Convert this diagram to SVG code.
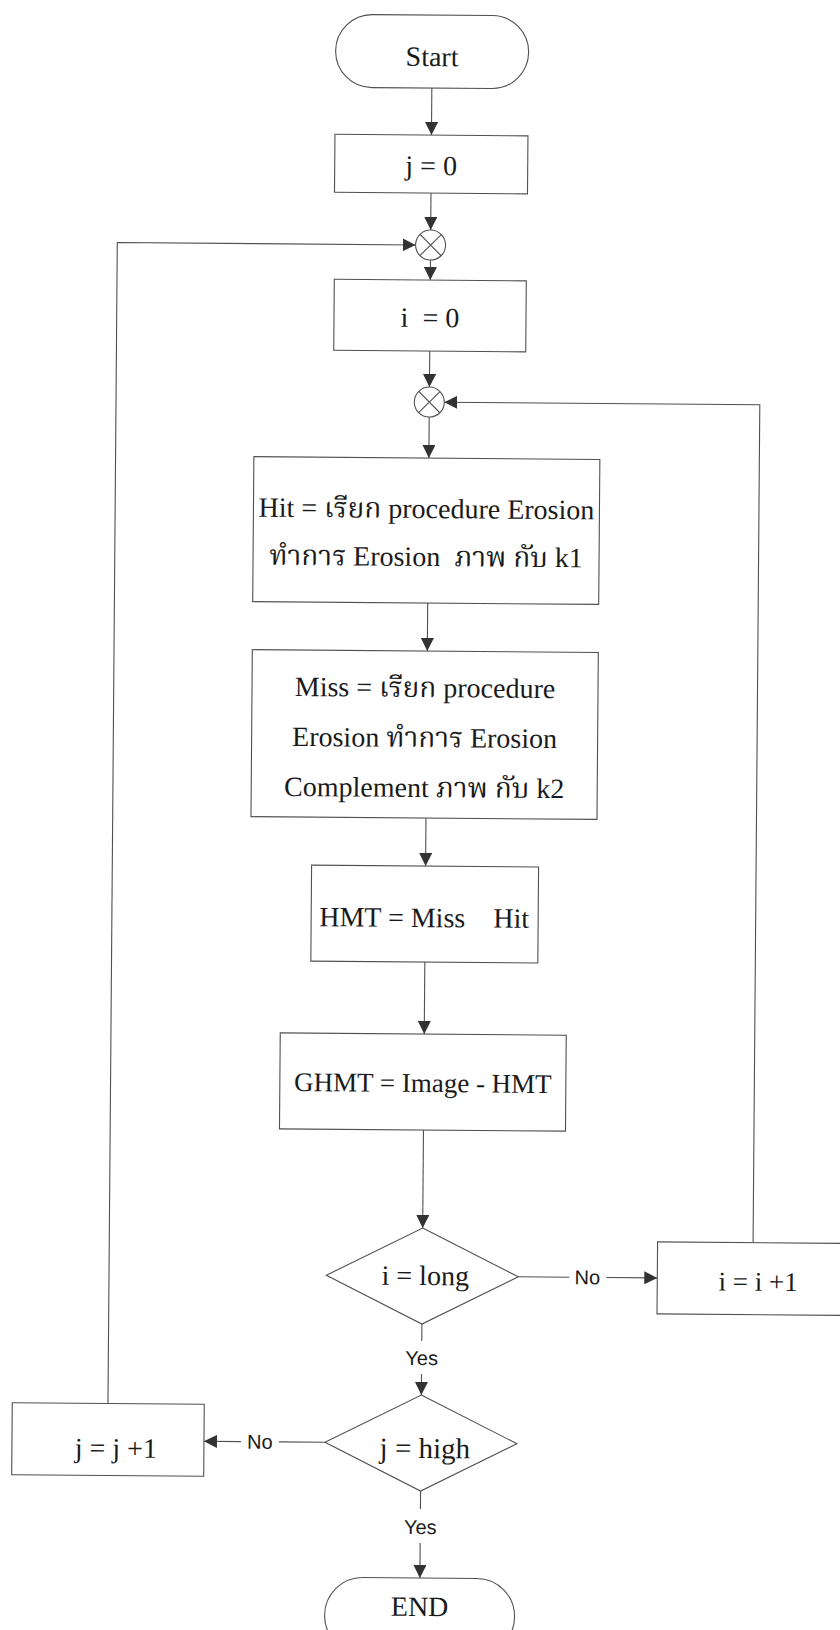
<svg xmlns="http://www.w3.org/2000/svg" width="840" height="1630" viewBox="0 0 840 1630">
  <style>
    .box { fill: #ffffff; stroke: #505050; stroke-width: 1.1; }
    .ln { fill: none; stroke: #505050; stroke-width: 1.1; }
    .arr { fill: none; stroke: #505050; stroke-width: 1.1; marker-end: url(#head); }
    .t { font-family: "Liberation Serif", "Noto Serif Thai", "Noto Sans Thai", "DejaVu Serif", serif; font-size: 28px; fill: #1a1a1a; text-anchor: middle; white-space: pre; }
    .lbl { font-family: "Liberation Sans", Arial, sans-serif; font-size: 20px; fill: #1a1a1a; text-anchor: middle; }
  </style>
  <defs>
    <marker id="head" markerUnits="userSpaceOnUse" markerWidth="14" markerHeight="13" refX="13" refY="6.5" orient="auto">
      <path d="M0,0 L13,6.5 L0,13 Z" fill="#333333"/>
    </marker>
  </defs>
  <rect width="840" height="1630" fill="#ffffff"/>

  <g transform="rotate(0.46 420 815)">
    <!-- connectors -->
    <g id="connectors">
      <line class="arr" x1="426" y1="88" x2="426" y2="135"/>
      <line class="arr" x1="426" y1="193" x2="426" y2="230"/>
      <line class="arr" x1="426" y1="260" x2="426" y2="280"/>
      <line class="arr" x1="426" y1="351" x2="426" y2="387"/>
      <line class="arr" x1="426" y1="417" x2="426" y2="458"/>
      <line class="arr" x1="426" y1="603" x2="426" y2="651"/>
      <line class="arr" x1="426" y1="818" x2="426" y2="866"/>
      <line class="arr" x1="426" y1="962" x2="426" y2="1034"/>
      <line class="arr" x1="426" y1="1130" x2="426" y2="1228"/>
      <!-- i = long : No -->
      <line class="ln" x1="522" y1="1276" x2="573" y2="1276"/>
      <text class="lbl" x="591" y="1283">No</text>
      <line class="arr" x1="610" y1="1276" x2="661" y2="1276"/>
      <!-- i = long : Yes -->
      <line class="ln" x1="426" y1="1324" x2="426" y2="1341"/>
      <text class="lbl" x="426" y="1365">Yes</text>
      <line class="arr" x1="426" y1="1374" x2="426" y2="1395"/>
      <!-- j = high : No -->
      <line class="ln" x1="330" y1="1443" x2="284" y2="1443"/>
      <text class="lbl" x="265" y="1450">No</text>
      <line class="arr" x1="246" y1="1443" x2="209" y2="1443"/>
      <!-- j = high : Yes -->
      <line class="ln" x1="426" y1="1491" x2="426" y2="1509"/>
      <text class="lbl" x="426" y="1534">Yes</text>
      <line class="arr" x1="426" y1="1543" x2="426" y2="1578"/>
      <!-- inner loop back -->
      <polyline class="arr" points="756.5,1240 756.5,402 441,402"/>
      <!-- outer loop back -->
      <polyline class="arr" points="112.7,1406 112.7,245 411,245"/>
    </g>

    <g id="start">
      <rect class="box" x="329.5" y="15" width="193" height="73" rx="36.5" ry="36.5"/>
      <text class="t" x="426" y="66">Start</text>
    </g>

    <g id="init-j">
      <rect class="box" x="329.5" y="135" width="193" height="58"/>
      <text class="t" x="426" y="175">j = 0</text>
    </g>

    <g id="join-outer">
      <circle class="box" cx="426" cy="245" r="15"/>
      <path class="ln" d="M415.4,234.4 L436.6,255.6 M436.6,234.4 L415.4,255.6"/>
    </g>

    <g id="init-i">
      <rect class="box" x="330" y="280" width="192" height="71"/>
      <text class="t" x="426" y="327">i  = 0</text>
    </g>

    <g id="join-inner">
      <circle class="box" cx="426" cy="402" r="15"/>
      <path class="ln" d="M415.4,391.4 L436.6,412.6 M436.6,391.4 L415.4,412.6"/>
    </g>

    <g id="hit">
      <rect class="box" x="251" y="458" width="346" height="145"/>
      <text class="t" x="424" y="518">Hit = เรียก procedure Erosion</text>
      <text class="t" x="424" y="566">ทำการ Erosion  ภาพ กับ k1</text>
    </g>

    <g id="miss">
      <rect class="box" x="251" y="651" width="346" height="167"/>
      <text class="t" x="424" y="697">Miss = เรียก procedure</text>
      <text class="t" x="424" y="747">Erosion ทำการ Erosion</text>
      <text class="t" x="424" y="797">Complement ภาพ กับ k2</text>
    </g>

    <g id="hmt">
      <rect class="box" x="312" y="866" width="227" height="96"/>
      <text class="t" x="425" y="927">HMT = Miss    Hit</text>
    </g>

    <g id="ghmt">
      <rect class="box" x="282" y="1034" width="286" height="96"/>
      <text class="t" x="425" y="1092" style="font-size:27px">GHMT = Image - HMT</text>
    </g>

    <g id="test-i">
      <polygon class="box" points="426,1228 522,1276 426,1324 330,1276"/>
      <text class="t" x="429" y="1285">i = long</text>
    </g>

    <g id="inc-i">
      <rect class="box" x="661" y="1240" width="200" height="72"/>
      <text class="t" x="762" y="1288" style="font-size:27px">i = i +1</text>
    </g>

    <g id="test-j">
      <polygon class="box" points="426,1395 522,1443 426,1491 330,1443"/>
      <text class="t" x="430" y="1458" style="font-size:29px">j = high</text>
    </g>

    <g id="inc-j">
      <rect class="box" x="17" y="1406" width="192" height="72"/>
      <text class="t" x="121" y="1460">j = j +1</text>
    </g>

    <g id="end">
      <rect class="box" x="331" y="1578" width="190" height="76" rx="38" ry="38"/>
      <text class="t" x="426" y="1616">END</text>
    </g>
  </g>
</svg>
